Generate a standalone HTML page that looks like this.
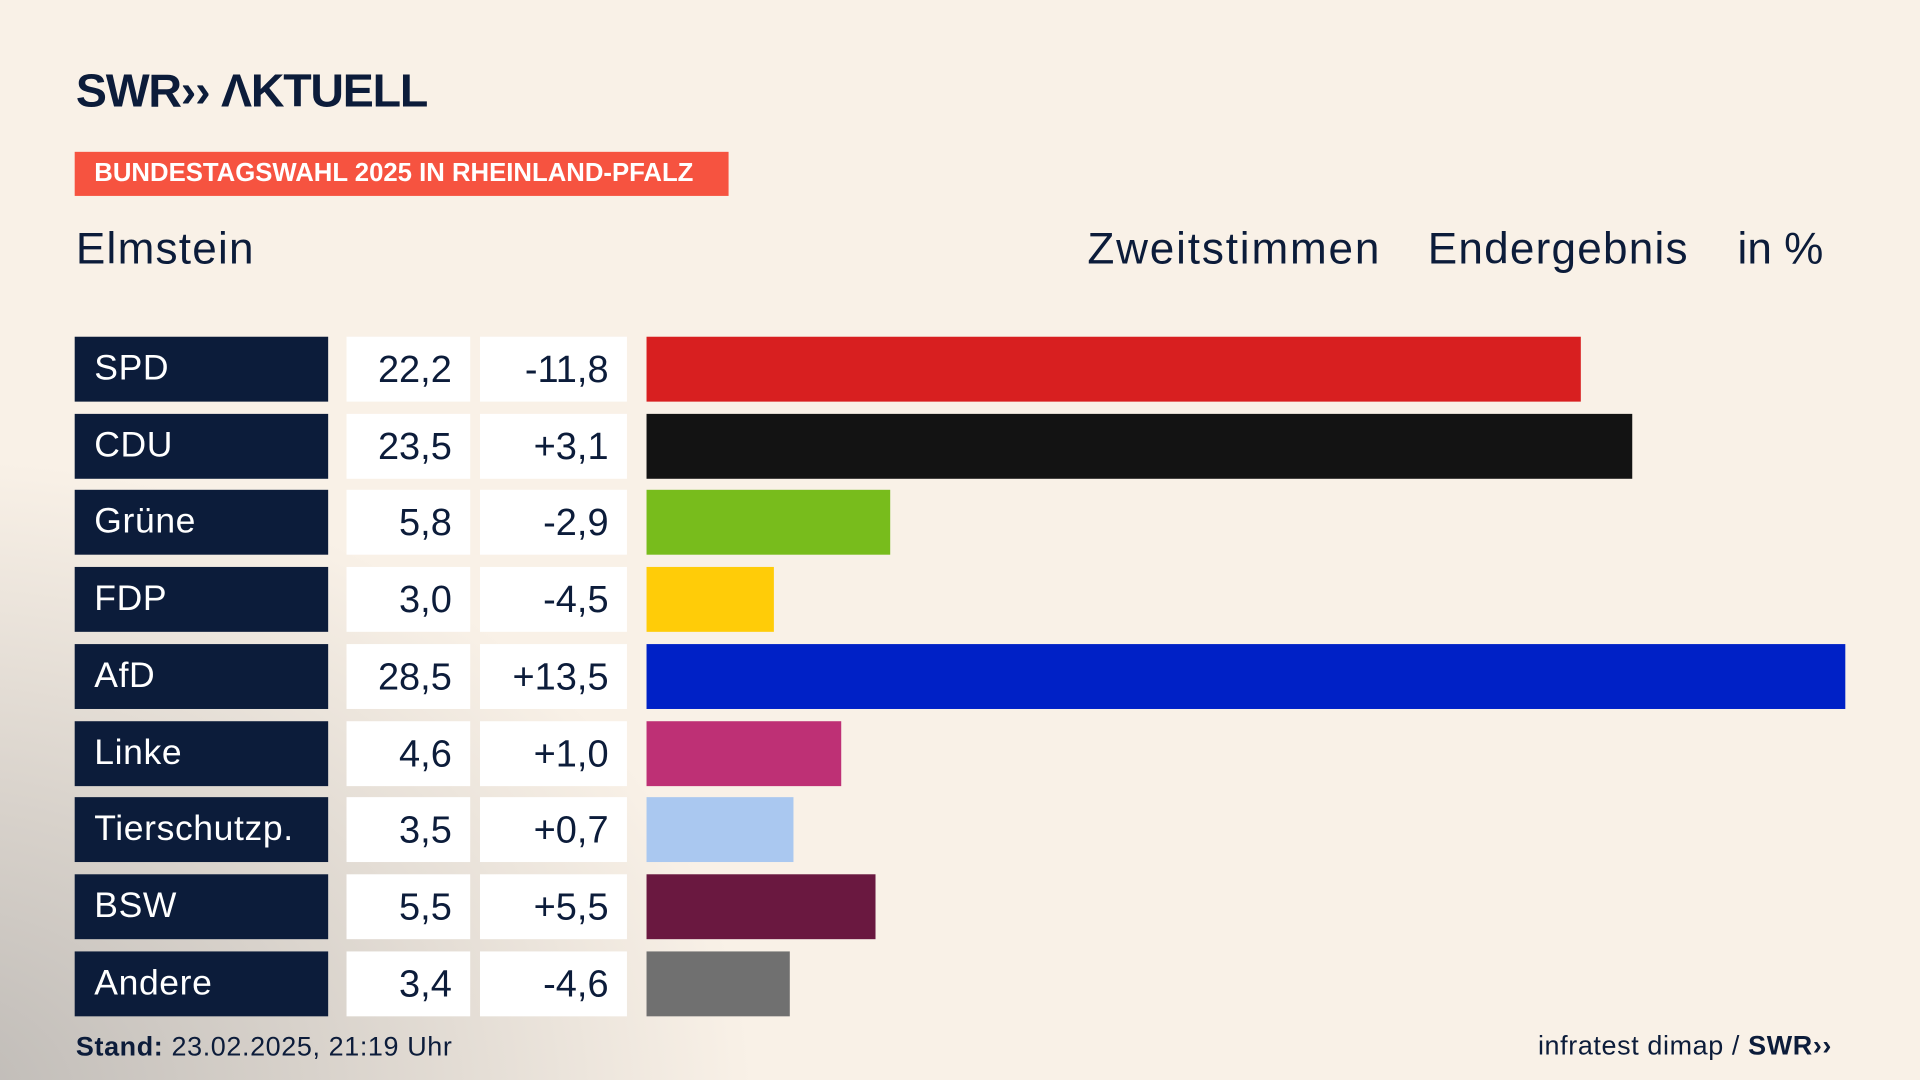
<!DOCTYPE html>
<html><head><meta charset="utf-8"><style>
html,body{margin:0;padding:0;width:1920px;height:1080px;overflow:hidden;}
#w{position:absolute;left:0;top:0;width:1568px;height:882px;transform:scale(1.22449);transform-origin:0 0;
background:radial-gradient(ellipse 900px 700px at -60px 900px,#bdb9b5 0%,#d8d2cb 35%,rgba(248,240,230,0) 75%),#f9f1e7;
font-family:"Liberation Sans",sans-serif;color:#0c1c3a;}
.a{position:absolute;}
.n{position:absolute;left:61px;width:207px;height:53px;background:#0c1c3a;color:#fff;font-size:29px;line-height:53px;box-sizing:border-box;padding-left:16px;letter-spacing:0.5px;}
.v{position:absolute;left:283px;width:101px;height:53px;background:#fff;font-size:31px;line-height:53px;text-align:right;box-sizing:border-box;padding-right:15px;}
.d{position:absolute;left:392px;width:120px;height:53px;background:#fff;font-size:31px;line-height:53px;text-align:right;box-sizing:border-box;padding-right:15px;}
.b{position:absolute;left:528px;height:53px;}
</style></head><body><div id="w">
<div class="a" style="left:62px;top:54px;font-size:38px;font-weight:bold;letter-spacing:-1px;">SWR&#8250;&#8250; ΛKTUELL</div>
<div class="a" style="left:61px;top:124px;width:534px;height:36px;background:#f65340;color:#fff;font-weight:bold;font-size:21px;line-height:36px;padding-left:16px;box-sizing:border-box;">BUNDESTAGSWAHL 2025 IN RHEINLAND-PFALZ</div>
<div class="a" style="left:62px;top:182px;font-size:36px;letter-spacing:1px;">Elmstein</div>
<div class="a" style="left:888px;top:182px;font-size:36px;letter-spacing:1.5px;">Zweitstimmen</div>
<div class="a" style="left:1166px;top:182px;font-size:36px;letter-spacing:1px;">Endergebnis</div>
<div class="a" style="left:1419px;top:182px;font-size:36px;">in %</div>

<div class="n" style="top:275px">SPD</div><div class="v" style="top:275px">22,2</div><div class="d" style="top:275px">-11,8</div><div class="b" style="top:275px;width:763px;background:#d81f20"></div>
<div class="n" style="top:338px">CDU</div><div class="v" style="top:338px">23,5</div><div class="d" style="top:338px">+3,1</div><div class="b" style="top:338px;width:805px;background:#131313"></div>
<div class="n" style="top:400px">Grüne</div><div class="v" style="top:400px">5,8</div><div class="d" style="top:400px">-2,9</div><div class="b" style="top:400px;width:199px;background:#78bc1c"></div>
<div class="n" style="top:463px">FDP</div><div class="v" style="top:463px">3,0</div><div class="d" style="top:463px">-4,5</div><div class="b" style="top:463px;width:104px;background:#ffcc08"></div>
<div class="n" style="top:526px">AfD</div><div class="v" style="top:526px">28,5</div><div class="d" style="top:526px">+13,5</div><div class="b" style="top:526px;width:979px;background:#0021c6"></div>
<div class="n" style="top:589px">Linke</div><div class="v" style="top:589px">4,6</div><div class="d" style="top:589px">+1,0</div><div class="b" style="top:589px;width:159px;background:#be3075"></div>
<div class="n" style="top:651px">Tierschutzp.</div><div class="v" style="top:651px">3,5</div><div class="d" style="top:651px">+0,7</div><div class="b" style="top:651px;width:120px;background:#aac8f0"></div>
<div class="n" style="top:714px">BSW</div><div class="v" style="top:714px">5,5</div><div class="d" style="top:714px">+5,5</div><div class="b" style="top:714px;width:187px;background:#6a1840"></div>
<div class="n" style="top:777px">Andere</div><div class="v" style="top:777px">3,4</div><div class="d" style="top:777px">-4,6</div><div class="b" style="top:777px;width:117px;background:#707070"></div>

<div class="a" style="left:62px;top:842px;font-size:22px;letter-spacing:0.5px;"><b>Stand:</b> 23.02.2025, 21:19 Uhr</div>
<div class="a" style="left:1256px;top:841px;font-size:22px;letter-spacing:0.5px;">infratest dimap / <b>SWR&#8250;&#8250;</b></div>
</div></body></html>
